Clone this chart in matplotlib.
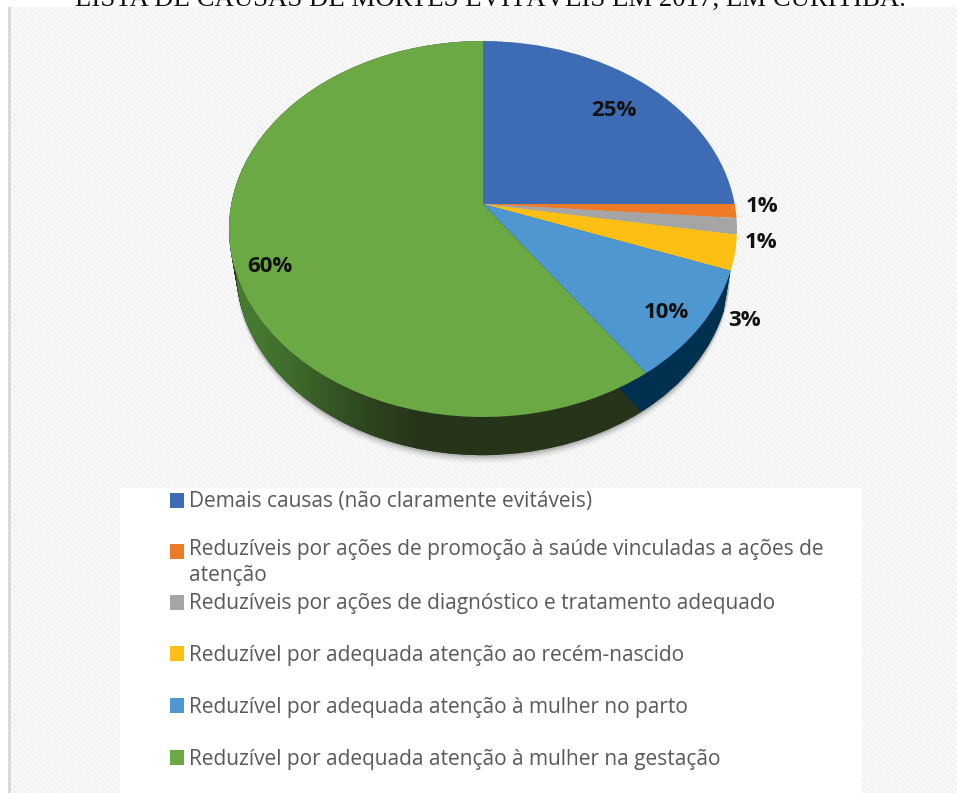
import numpy as np
import matplotlib
matplotlib.use("Agg")
import matplotlib.pyplot as plt
from matplotlib.patches import Rectangle, PathPatch
from matplotlib.path import Path
from matplotlib.transforms import Transform

categorias = [
    "Demais causas (não claramente evitáveis)",
    "Reduzíveis por ações de promoção à saúde vinculadas a ações de\natenção",
    "Reduzíveis por ações de diagnóstico e tratamento adequado",
    "Reduzível por adequada atenção ao recém-nascido",
    "Reduzível por adequada atenção à mulher no parto",
    "Reduzível por adequada atenção à mulher na gestação",
]
valores = [25, 1.2, 1.4, 3.0, 9.6, 59.8]
rotulos = ["25%", "1%", "1%", "3%", "10%", "60%"]
cores = ["#3d6cb4", "#ee7a26", "#a5a5a5", "#fdbf13", "#4f97d1", "#6aa944"]
cores_lado = ["#1f3864", "#843c0c", "#525252", "#7f6000", "#00304f", "#26351a"]
titulo = "LISTA DE CAUSAS DE MORTES EVITÁVEIS EM 2017, EM CURITIBA."

pos_rotulos = [(614, 110), (762, 206), (761, 242), (744, 319), (666, 311), (270, 266)]
y_legenda = [501, 552, 603, 654, 706, 758]

plt.rcParams["font.family"] = ["Open Sans", "DejaVu Sans"]
plt.rcParams["hatch.linewidth"] = 2.2


# perspectiva do disco: circulo unitario -> elipse em pixels
class Inclinado(Transform):
    input_dims = 2
    output_dims = 2

    def __init__(self, dy=0.0, esc_x=1.0, esc_y=1.0):
        super().__init__()
        self.dy = dy
        self.esc_x = esc_x
        self.esc_y = esc_y

    def transform_non_affine(self, xy):
        xy = np.asarray(xy, dtype=float)
        k = 0.133
        d = 1 + k * xy[:, 1]
        x = 483 + self.esc_x * 251.7 * xy[:, 0] / d
        y = 229 + self.dy - self.esc_y * (188 * xy[:, 1] + 25) / d
        return np.column_stack([x, y])

    def transform_path_non_affine(self, path):
        return Path(self.transform_non_affine(path.vertices), path.codes)


fig = plt.figure(figsize=(9.57, 7.93), dpi=100)
ax = fig.add_axes([0, 0, 1, 1])

PROF = 41
ESC_X = 0.972
ESC_Y = 0.985

# sombra
for s, a in [(8, 0.03), (6, 0.05), (4, 0.08), (2, 0.12)]:
    cunhas, _ = ax.pie([1], colors=["#000000"], radius=1, wedgeprops=dict(linewidth=0, alpha=a))
    cunhas[0].set_transform(Inclinado(PROF + s, ESC_X, ESC_Y) + ax.transData)
    cunhas[0].set_zorder(2)

# lateral (so as duas ultimas fatias aparecem)
for k in range(PROF + 1):
    t = k / PROF
    cunhas, _ = ax.pie(valores, colors=cores_lado, startangle=90, counterclock=False,
                       wedgeprops=dict(linewidth=0))
    for i, c in enumerate(cunhas):
        c.set_transform(Inclinado(k, 1 - (1 - ESC_X) * t, 1 - (1 - ESC_Y) * t) + ax.transData)
        c.set_zorder(3)
        c.set_visible(i >= 4)

# degrade do lado verde
ang = 90 - 360 * (sum(valores[:5]) / 100)
phi = np.radians(np.linspace(ang, -270 + 0, 300))
phi = phi[np.cos(phi) < 0.6]
phi = phi[np.sin(phi) < 0.75]
circ = np.column_stack([np.cos(phi), np.sin(phi)])
cima = Inclinado().transform_non_affine(circ)
baixo = Inclinado(PROF, ESC_X, ESC_Y).transform_non_affine(circ)
contorno = np.vstack([cima, baixo[::-1]])
grad = np.array([[0.0, 0.35, 0.75, 1.0, 1.0]])
cor_a = np.array([0x46, 0x7a, 0x30]) / 255
cor_b = np.array([0x26, 0x35, 0x1a]) / 255
img = (cor_a[None, None, :] * (1 - grad[..., None]) + cor_b[None, None, :] * grad[..., None])
im = ax.imshow(img, extent=(229, 500, 470, 130), aspect="auto", zorder=3.5, interpolation="bilinear")
im.set_clip_path(PathPatch(Path(contorno, closed=False), transform=ax.transData))

# topo
cunhas, _ = ax.pie(valores, colors=cores, startangle=90, counterclock=False,
                   wedgeprops=dict(linewidth=0))
for c in cunhas:
    c.set_transform(Inclinado() + ax.transData)
    c.set_zorder(4)

ax.set_aspect("auto")
ax.set_xlim(0, 957)
ax.set_ylim(793, 0)
ax.axis("off")

# fundo listrado
ax.add_patch(Rectangle((10, 7), 947, 786, facecolor="white", edgecolor="#f3f3f3",
                       hatch="\\\\\\\\\\\\", linewidth=0, zorder=0))
ax.add_patch(Rectangle((8, 7), 3, 786, facecolor="#d9d9d9", linewidth=0, zorder=1))
ax.add_patch(Rectangle((120, 488), 742, 305, facecolor="white", linewidth=0, zorder=1))

ax.text(490, 6, titulo, family="Liberation Serif", fontsize=19.3, color="#111111",
        ha="center", va="baseline", zorder=6)

for rot, (x, y) in zip(rotulos, pos_rotulos):
    ax.text(x, y + 1, rot, fontsize=16, fontweight="bold", color="#111111",
            ha="center", va="center", zorder=6)

for cat, cor, y in zip(categorias, cores, y_legenda):
    ax.add_patch(Rectangle((170, y - 8), 14, 15, facecolor=cor, linewidth=0, zorder=5))
    if "\n" in cat:
        ax.text(189, y - 13, cat, fontsize=15, color="#595959", va="top", linespacing=1.3, zorder=6)
    else:
        ax.text(189, y + 1, cat, fontsize=15, color="#595959", va="center", zorder=6)

fig.savefig("out.png", dpi=100)
